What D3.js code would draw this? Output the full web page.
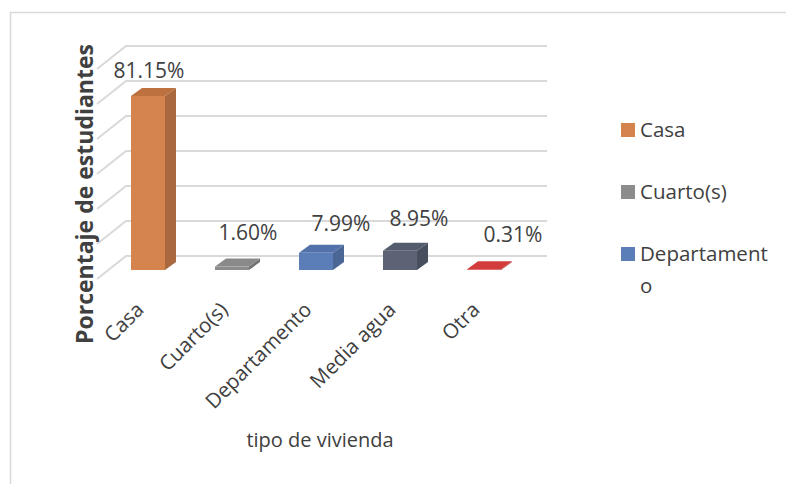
<!DOCTYPE html>
<html>
<head>
<meta charset="utf-8">
<script src="https://cdn.jsdelivr.net/npm/d3@7"></script>
<style>
  body { margin: 0; background: #fff; }
  text { font-family: "Open Sans", sans-serif; fill: #404040; }
</style>
</head>
<body>
<div id="chart"></div>
<script>
// tipo de vivienda vs porcentaje de estudiantes
const categories = ["Casa", "Cuarto(s)", "Departamento", "Media agua", "Otra"];
const values = [81.15, 1.60, 7.99, 8.95, 0.31];
const valueLabels = ["81.15%", "1.60%", "7.99%", "8.95%", "0.31%"];
const gridTicks = [0, 15, 30, 45, 60, 75, 90];
const legendItems = ["Casa", "Cuarto(s)", "Departamento"];

// colours: front, side, top
const palette = [
  ["#d5844d", "#a9683e", "#bd713f"],
  ["#8c8c8c", "#707070", "#8a8a8a"],
  ["#5b7db8", "#4a6694", "#5271aa"],
  ["#5b6375", "#474e5e", "#535b6d"],
  ["#d44040", "#a83232", "#d23c3c"]
];
// Excel puts the 3D data labels a bit off the bars
const labelNudge = [[1, -18], [16, -27], [25, -22], [19, -25], [29, -27]];

const W = 786, H = 484;
const svg = d3.select("#chart").append("svg")
  .attr("width", W).attr("height", H);

// chart border (only top/left visible in the crop)
svg.append("path")
  .attr("d", `M10.5,${H} V12.5 H${W}`)
  .attr("fill", "none").attr("stroke", "#d9d9d9").attr("stroke-width", 1.5);

const x = d3.scalePoint().domain(categories).range([148, 484]);
const yBack = d3.scaleLinear().domain([0, 90]).range([256, 46]);
const yFront = d3.scaleLinear().domain([0, 90]).range([270, 270 - 90 * 2.145]);

const wallLeft = 126, wallRight = 547;
const sideDx = -29, sideDy = 23;

// gridlines on back wall + side wall
const grid = svg.append("g").attr("fill", "none").attr("stroke", "#d9d9d9").attr("stroke-width", 2);
grid.selectAll("path")
  .data(gridTicks)
  .join("path")
  .attr("d", d => `M${wallLeft + sideDx},${yBack(d) + sideDy} L${wallLeft},${yBack(d)} H${wallRight}`);

// 3D bars
const barW = 34, dx = 11, dy = -8;
const bars = svg.append("g").selectAll("g")
  .data(categories.map((c, i) => ({c, v: values[i], i})))
  .join("g");

bars.append("polygon") // side
  .attr("points", d => {
    const x1 = x(d.c) + barW / 2, yb = yFront(0), yt = yFront(d.v);
    return [[x1, yb], [x1 + dx, yb + dy], [x1 + dx, yt + dy], [x1, yt]].join(" ");
  })
  .attr("fill", d => palette[d.i][1]);

bars.append("polygon") // top
  .attr("points", d => {
    const x0 = x(d.c) - barW / 2, x1 = x(d.c) + barW / 2, yt = yFront(d.v);
    return [[x0, yt], [x0 + dx, yt + dy], [x1 + dx, yt + dy], [x1, yt]].join(" ");
  })
  .attr("fill", d => palette[d.i][2]);

bars.append("rect") // front
  .attr("x", d => x(d.c) - barW / 2)
  .attr("y", d => yFront(d.v))
  .attr("width", barW)
  .attr("height", d => yFront(0) - yFront(d.v))
  .attr("fill", d => palette[d.i][0]);

// data labels
svg.append("g").selectAll("text")
  .data(categories)
  .join("text")
  .attr("x", (c, i) => x(c) + labelNudge[i][0])
  .attr("y", (c, i) => yFront(values[i]) + labelNudge[i][1])
  .attr("text-anchor", "middle")
  .style("font-size", "21px")
  .text((c, i) => valueLabels[i]);

// category labels, rotated
svg.append("g").selectAll("text")
  .data(categories)
  .join("text")
  .attr("transform", c => `translate(${x(c) - 3},311) rotate(-45)`)
  .attr("text-anchor", "end")
  .style("font-size", "20.5px")
  .text(c => c);

// axis titles
svg.append("text")
  .attr("x", 320).attr("y", 447)
  .attr("text-anchor", "middle")
  .style("font-size", "20px")
  .text("tipo de vivienda");

svg.append("text")
  .attr("transform", "translate(93,194) rotate(-90)")
  .attr("text-anchor", "middle")
  .style("font-size", "23px").style("font-weight", "bold")
  .text("Porcentaje de estudiantes");

// legend (clipped after third item like the original)
const legend = svg.append("g").selectAll("g")
  .data(legendItems)
  .join("g")
  .attr("transform", (d, i) => `translate(621,${130 + i * 62})`);

legend.append("rect")
  .attr("x", 0).attr("y", -7).attr("width", 14).attr("height", 14)
  .attr("fill", (d, i) => palette[i][0]);

legend.append("text")
  .attr("x", 19).attr("y", 7)
  .style("font-size", "20.5px")
  .each(function(d) {
    const t = d3.select(this);
    if (d.length > 11) {
      t.append("tspan").attr("x", 19).text(d.slice(0, 11));
      t.append("tspan").attr("x", 19).attr("dy", 32).text(d.slice(11));
    } else {
      t.text(d);
    }
  });
</script>
</body>
</html>
